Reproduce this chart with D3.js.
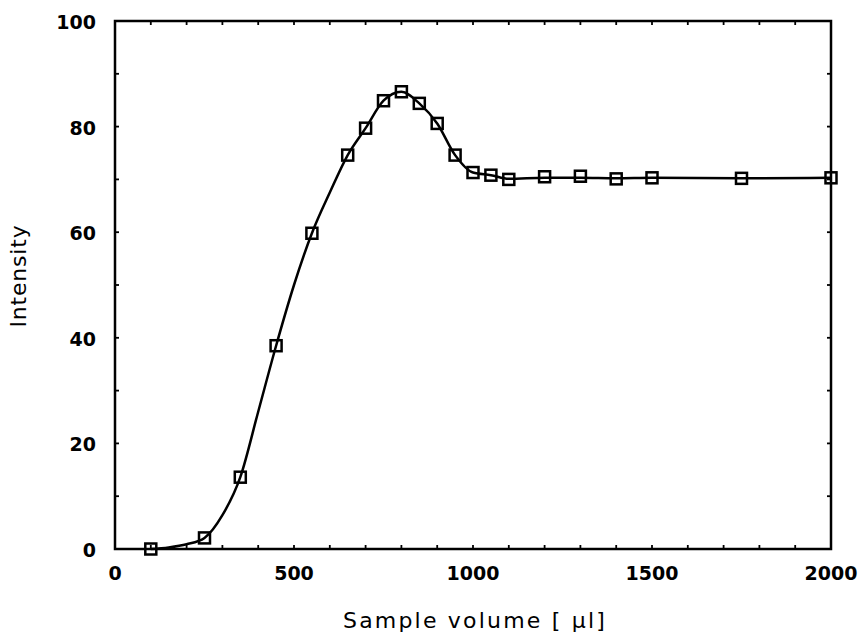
<!DOCTYPE html>
<html><head><meta charset="utf-8">
<script src="https://cdn.jsdelivr.net/npm/d3@7"></script>
<style>body{margin:0;background:#fff}svg{display:block}</style>
</head><body>
<script>
// Marker data
const volumes = [100, 250, 350, 450, 550, 650, 700, 750, 800, 850, 900, 950, 1000, 1050, 1100, 1200, 1300, 1400, 1500, 1750, 2000];
const intensities = [0, 2.1, 13.6, 38.5, 59.8, 74.6, 79.7, 84.9, 86.6, 84.4, 80.6, 74.6, 71.3, 70.8, 70.0, 70.5, 70.6, 70.1, 70.3, 70.2, 70.3];
// Fitted curve data
const curveX = [100, 150, 200, 250, 300, 350, 400, 450, 500, 550, 600, 650, 700, 750, 800, 850, 900, 950, 1000, 1050, 1100, 1200, 1300, 1400, 1500, 1750, 2000];
const curveY = [0, 0.3, 0.9, 2.1, 6.4, 13.6, 26, 38.5, 50, 59.8, 67.5, 74.6, 79.7, 84.9, 86.6, 84.4, 80.6, 74.6, 71.3, 70.8, 70.1, 70.3, 70.3, 70.2, 70.3, 70.2, 70.3];
const xTicks = [0, 500, 1000, 1500, 2000];
const yTicks = [0, 20, 40, 60, 80, 100];
const xTitle = "Sample volume [ µl]";
const yTitle = "Intensity";

const W = 860, H = 633;
const m = {left: 115, right: 29, top: 21, bottom: 84};
const svg = d3.select("body").append("svg").attr("width", W).attr("height", H);
const x = d3.scaleLinear().domain([0, 2000]).range([m.left, W - m.right]);
const y = d3.scaleLinear().domain([0, 100]).range([H - m.bottom, m.top]);
const font = "DejaVu Sans, Verdana, sans-serif";

// frame
svg.append("rect").attr("x", x(0)).attr("y", y(100))
  .attr("width", x(2000) - x(0)).attr("height", y(0) - y(100))
  .attr("fill", "none").attr("stroke", "#000").attr("stroke-width", 2.5);

// minor/major ticks (inward)
const xMinor = d3.range(0, 2001, 100);
const yMinor = d3.range(0, 101, 10);
const tg = svg.append("g").attr("stroke", "#000").attr("stroke-width", 1.8);
xMinor.forEach(v => {
  tg.append("line").attr("x1", x(v)).attr("x2", x(v)).attr("y1", y(0)).attr("y2", y(0) - 4);
  tg.append("line").attr("x1", x(v)).attr("x2", x(v)).attr("y1", y(100)).attr("y2", y(100) + 4);
});
yMinor.forEach(v => {
  tg.append("line").attr("x1", x(0)).attr("x2", x(0) + 4).attr("y1", y(v)).attr("y2", y(v));
  tg.append("line").attr("x1", x(2000)).attr("x2", x(2000) - 4).attr("y1", y(v)).attr("y2", y(v));
});

// tick labels
svg.append("g").selectAll("text").data(xTicks).join("text")
  .attr("x", d => x(d)).attr("y", y(0) + 31).attr("text-anchor", "middle")
  .attr("font-family", font).attr("font-size", 19).attr("font-weight", "bold").text(d => d);
svg.append("g").selectAll("text").data(yTicks).join("text")
  .attr("x", x(0) - 19).attr("y", d => y(d) + 8).attr("text-anchor", "end")
  .attr("font-family", font).attr("font-size", 19).attr("font-weight", "bold").text(d => d);

// titles
svg.append("text").attr("x", 475).attr("y", 628).attr("text-anchor", "middle")
  .attr("font-family", font).attr("font-size", 22).attr("letter-spacing", 2.2).text(xTitle);
svg.append("text").attr("transform", `translate(26,276) rotate(-90)`)
  .attr("text-anchor", "middle").attr("font-family", font).attr("font-size", 22)
  .attr("letter-spacing", 0.8).text(yTitle);

// curve
const pts = curveX.map((v, i) => [v, curveY[i]]);
svg.append("path").datum(pts)
  .attr("d", d3.line().x(d => x(d[0])).y(d => y(d[1])).curve(d3.curveMonotoneX))
  .attr("fill", "none").attr("stroke", "#000").attr("stroke-width", 2.5);

// markers
const s = 11;
svg.append("g").selectAll("rect").data(volumes.map((v, i) => [v, intensities[i]])).join("rect")
  .attr("x", d => x(d[0]) - s / 2).attr("y", d => y(d[1]) - s / 2)
  .attr("width", s).attr("height", s)
  .attr("fill", "none").attr("stroke", "#000").attr("stroke-width", 2.5);
</script>
</body></html>
